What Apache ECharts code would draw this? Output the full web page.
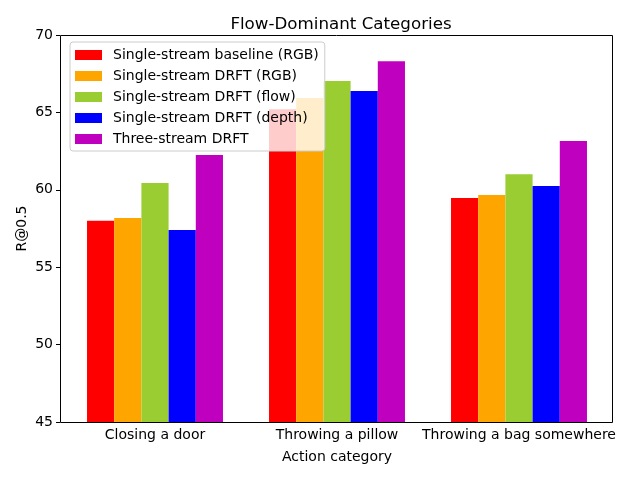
<!DOCTYPE html>
<html><head><meta charset="utf-8">
<script src="https://cdn.jsdelivr.net/npm/echarts@6/dist/echarts.min.js"></script>
<style>html,body{margin:0;padding:0;background:#fff}#c{width:640px;height:480px}</style>
</head><body><div id="c"></div>
<script>
const categories = ["Closing a door", "Throwing a pillow", "Throwing a bag somewhere"];
const seriesNames = ["Single-stream baseline (RGB)", "Single-stream DRFT (RGB)", "Single-stream DRFT (flow)", "Single-stream DRFT (depth)", "Three-stream DRFT"];
const baselineRGB = [58.0, 65.2, 59.47];
const drftRGB = [58.18, 65.93, 59.66];
const drftFlow = [60.44, 67.03, 61.0];
const drftDepth = [57.4, 66.38, 60.25];
const threeStream = [62.25, 68.3, 63.15];
const yTicks = [45, 50, 55, 60, 65, 70];
const colors = ["#ff0000", "#ffa500", "#9acd32", "#0000ff", "#bf00bf"];
const values = [baselineRGB, drftRGB, drftFlow, drftDepth, threeStream];
const font = "DejaVu Sans";
const chart = echarts.init(document.getElementById('c'));
chart.setOption({
  animation: false,
  textStyle: {fontFamily: font},
  title: {text: "Flow-Dominant Categories", left: 336, top: 11, textAlign: 'center',
    textStyle: {fontFamily: font, fontSize: 16.7, fontWeight: 'normal', color: '#000'}},
  grid: {left: 64, right: 30, top: 35, bottom: 58},
  graphic: [{type: 'rect', shape: {x: 60.5, y: 35.5, width: 552, height: 387}, z: 5,
    style: {fill: 'none', stroke: '#000', lineWidth: 1}}],
  legend: {
    orient: 'vertical', left: 70, top: 42, itemWidth: 27, itemHeight: 10, itemGap: 7,
    padding: [6, 6, 5, 5], z: 10,
    backgroundColor: 'rgba(255,255,255,0.8)', borderColor: '#cccccc', borderWidth: 1, borderRadius: 3,
    textStyle: {fontFamily: font, fontSize: 14, lineHeight: 14, color: '#000', padding: [0, 0, 0, 6]},
    data: seriesNames.map(n => ({name: n, icon: 'rect'}))
  },
  xAxis: {
    type: 'category', data: categories, name: "Action category", nameLocation: 'middle', nameGap: 28,
    nameTextStyle: {fontFamily: font, fontSize: 14, color: '#000'},
    axisLine: {lineStyle: {color: '#000'}},
    axisTick: {alignWithLabel: true, length: 4, lineStyle: {color: '#000'}},
    axisLabel: {fontFamily: font, fontSize: 14, color: '#000', margin: 6, interval: 0},
    splitLine: {show: false}
  },
  yAxis: {
    type: 'value', min: 45, max: 70, interval: 5, offset: 4, name: "R@0.5", nameLocation: 'middle', nameGap: 31,
    nameMoveOverlap: false,
    nameTextStyle: {fontFamily: font, fontSize: 14, color: '#000'},
    axisLine: {show: false},
    axisTick: {show: true, length: 4, lineStyle: {color: '#000'}},
    axisLabel: {fontFamily: font, fontSize: 14, color: '#000', margin: 7,
      formatter: v => yTicks.includes(v) ? String(v) : ''},
    splitLine: {show: false}
  },
  series: values.map((vals, i) => ({
    name: seriesNames[i], type: 'bar', data: vals, barGap: '0%', barCategoryGap: '25.3%',
    itemStyle: {color: colors[i]}
  }))
});
</script></body></html>
